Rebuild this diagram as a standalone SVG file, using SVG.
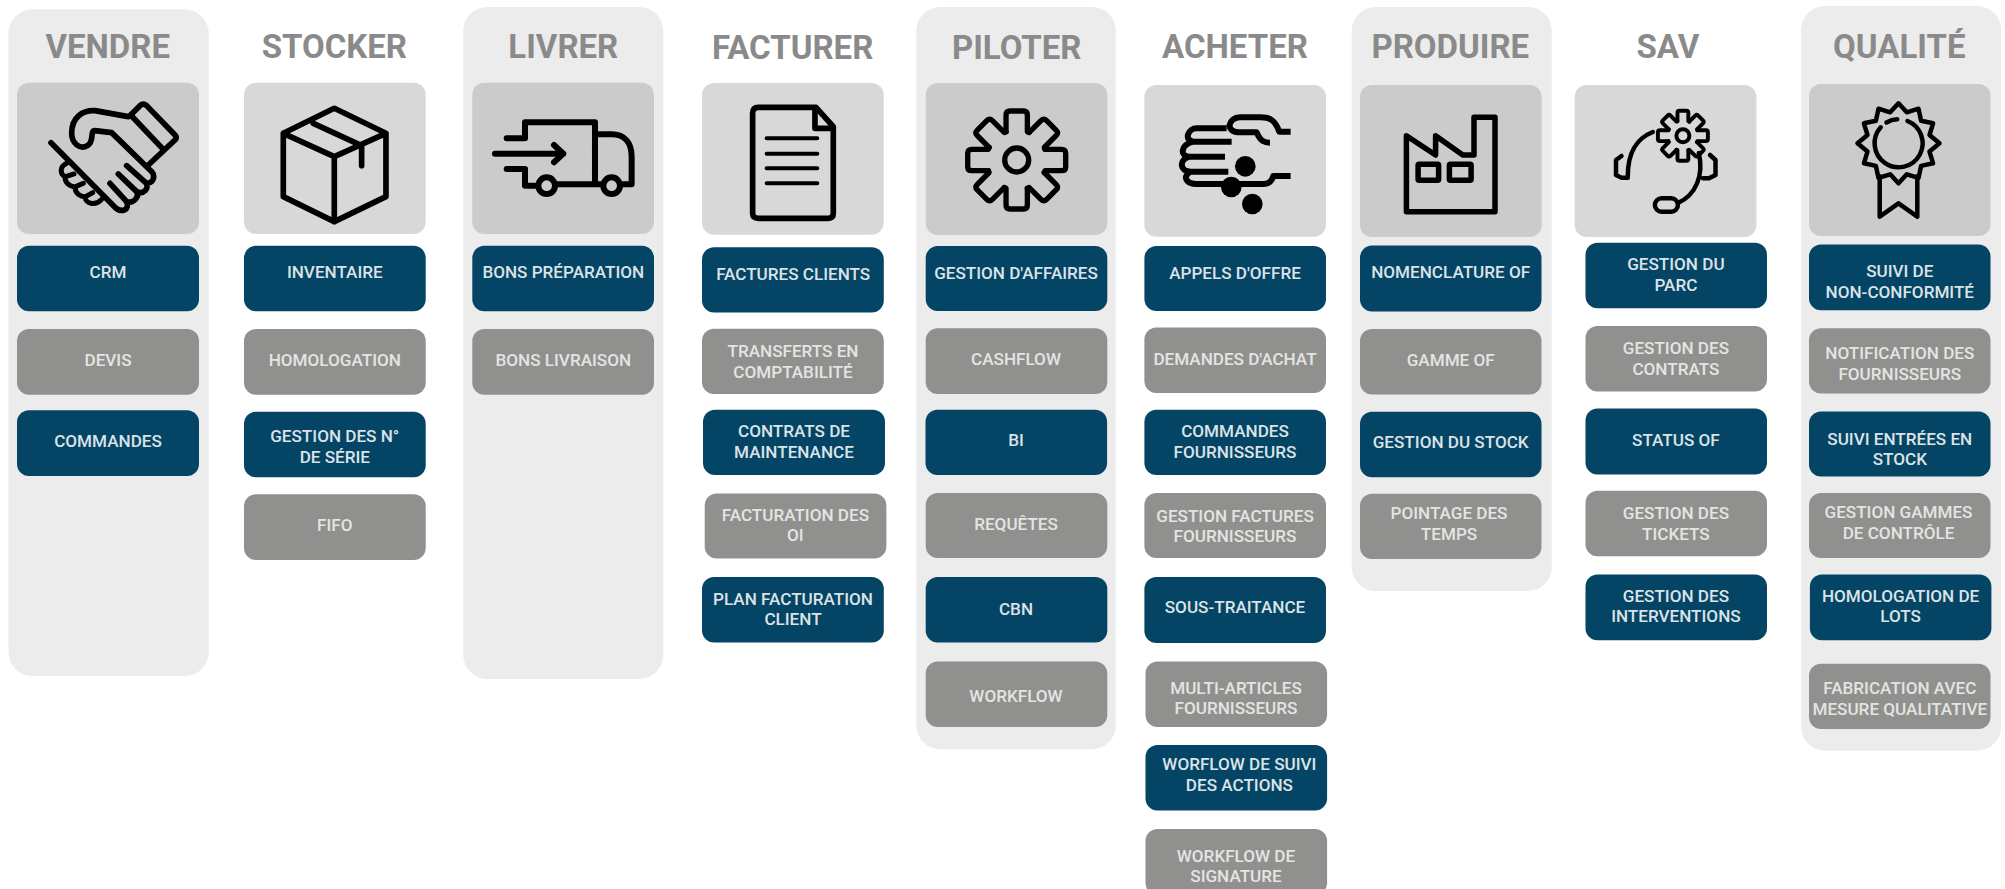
<svg xmlns="http://www.w3.org/2000/svg" width="2005" height="889" viewBox="0 0 2005 889">
<style>
text{font-family:Roboto,"Liberation Sans",sans-serif;text-anchor:middle}
.p{fill:#ececec}
.ia{fill:#cbcbcb}
.ib{fill:#d8d8d8}
.t{font-size:33px;font-weight:700;fill:#8a8a8a}
.n rect{fill:#044464}
.g rect{fill:#90918e}
.n text,.g text{font-size:17.1px;font-weight:500;fill:#dbe3e7}
.g text{fill:#e4e4e2}
.ic{fill:none;stroke:#000;stroke-linecap:round;stroke-linejoin:round}
</style>
<defs>
<path id="tooth" d="M-32,-85V-135Q-32,-147-20,-147H20Q32,-147 32,-135V-85L37.5,-82.7"/>
<g id="gear">
<use href="#tooth"/><use href="#tooth" transform="rotate(45)"/><use href="#tooth" transform="rotate(90)"/><use href="#tooth" transform="rotate(135)"/><use href="#tooth" transform="rotate(180)"/><use href="#tooth" transform="rotate(225)"/><use href="#tooth" transform="rotate(270)"/><use href="#tooth" transform="rotate(315)"/>
</g>
</defs>
<rect width="2005" height="889" fill="#fff"/>

<g id="col-vendre">
<rect class="p" x="8.5" y="9.3" width="200.2" height="666.7" rx="24"/>
<text class="t" x="107.7" y="58.2">VENDRE</text>
<rect class="ia" x="17" y="82.7" width="182" height="151.3" rx="12"/>
<g class="ic" stroke-width="17" transform="scale(.3333)" id="icon-handshake">
<path d="M153,428L345,622C365,640 390,630 380,605L330,550M380,605C400,612 420,590 410,575L355,522M410,575C430,585 450,565 437,548L380,497M437,548C460,555 470,525 450,510L335,398L285,392C268,392 285,425 262,437C240,450 215,430 215,400C215,350 250,330 285,332L385,350"/>
<path d="M392,345L420,317Q430,308 440,317L525,405Q532,412 525,420L445,495M392,345L485,443"/>
<path d="M200,490C180,500 178,520 195,530C195,550 210,560 225,560C225,580 240,590 255,590C255,610 285,620 305,598M222,522L197,530M250,550L227,560M278,578L257,590" stroke-width="15"/>
</g>
</g>
<g id="node-crm" class="n"><rect x="17" y="245.7" width="182" height="65.6" rx="12"/><text x="108" y="278">CRM</text></g>
<g id="node-devis" class="g"><rect x="17" y="329" width="182" height="65.7" rx="12"/><text x="108" y="366">DEVIS</text></g>
<g id="node-commandes" class="n"><rect x="17" y="410.3" width="182" height="65.7" rx="12"/><text x="108" y="447.3">COMMANDES</text></g>

<g id="col-stocker">
<text class="t" x="334.3" y="58">STOCKER</text>
<rect class="ib" x="244" y="82.7" width="181.7" height="151.3" rx="12"/>
<g class="ic" stroke-width="17" transform="scale(.3333)" id="icon-box">
<path d="M1003,325L1158,400V590L1003,665L850,590V400ZM850,400L1003,470L1158,400M1003,470V665M940,370L1085,437V497"/>
</g>
</g>
<g id="node-inventaire" class="n"><rect x="244" y="245.7" width="181.7" height="65.6" rx="12"/><text x="334.8" y="278">INVENTAIRE</text></g>
<g id="node-homologation" class="g"><rect x="244" y="329" width="181.7" height="65.7" rx="12"/><text x="334.8" y="366">HOMOLOGATION</text></g>
<g id="node-series" class="n"><rect x="244" y="411.7" width="181.7" height="65.6" rx="12"/><text x="334.8" y="442.3">GESTION DES N°</text><text x="334.8" y="463.3">DE SÉRIE</text></g>
<g id="node-fifo" class="g"><rect x="244" y="494.3" width="181.7" height="65.7" rx="12"/><text x="334.8" y="531.3">FIFO</text></g>

<g id="col-livrer">
<rect class="p" x="463.3" y="7" width="200" height="672" rx="24"/>
<text class="t" x="563.3" y="58">LIVRER</text>
<rect class="ia" x="472.3" y="82.7" width="181.7" height="151.3" rx="12"/>
<g class="ic" stroke-width="18" transform="translate(450 0) scale(.3333)" id="icon-truck">
<path d="M170,415H225V367H435V553H322M170,507H225V557H262M435,403H485C525,403 545,430 545,470V553H518M435,553H452"/>
<circle cx="290" cy="557" r="25"/><circle cx="485" cy="557" r="25"/>
<path d="M135,461H340M312,435L340,461L312,487"/>
</g>
</g>
<g id="node-preparation" class="n"><rect x="472.3" y="245.7" width="181.7" height="65.6" rx="12"/><text x="563.3" y="278">BONS PRÉPARATION</text></g>
<g id="node-livraison" class="g"><rect x="472.3" y="329" width="181.7" height="65.7" rx="12"/><text x="563.3" y="366">BONS LIVRAISON</text></g>

<g id="col-facturer">
<text class="t" x="792.7" y="58.6">FACTURER</text>
<rect class="ib" x="702" y="83" width="181.7" height="151.7" rx="12"/>
<g class="ic" stroke-width="17" transform="translate(450 0) scale(.3333)" id="icon-document">
<path d="M1098,322H925Q908,322 908,340V640Q908,655 925,655H1135Q1150,655 1150,640V380ZM1095,322V385H1150"/>
<path d="M950,415H1102M950,461H1102M950,505H1102M950,550H1102" stroke-width="12"/>
</g>
</g>
<g id="node-factures" class="n"><rect x="702" y="247.2" width="181.8" height="65.2" rx="12"/><text x="793.2" y="280.4">FACTURES CLIENTS</text></g>
<g id="node-transferts" class="g"><rect x="702" y="328.7" width="181.8" height="65.2" rx="12"/><text x="793" y="357.3">TRANSFERTS EN</text><text x="793" y="378.3">COMPTABILITÉ</text></g>
<g id="node-contrats" class="n"><rect x="703" y="409.8" width="182" height="65.2" rx="12"/><text x="794" y="437.2">CONTRATS DE</text><text x="794" y="458.2">MAINTENANCE</text></g>
<g id="node-facturation" class="g"><rect x="704.7" y="493.4" width="181.7" height="65.2" rx="12"/><text x="795.4" y="520.5">FACTURATION DES</text><text x="795.4" y="540.5">OI</text></g>
<g id="node-plan" class="n"><rect x="702" y="577" width="181.8" height="65.6" rx="12"/><text x="793" y="605">PLAN FACTURATION</text><text x="793" y="625.2">CLIENT</text></g>

<g id="col-piloter">
<rect class="p" x="916.3" y="7" width="199.5" height="742.3" rx="24"/>
<text class="t" x="1016.7" y="58.6">PILOTER</text>
<rect class="ia" x="925.7" y="83" width="181.6" height="152" rx="12"/>
<g class="ic" stroke-width="16" transform="translate(1016.7 160) scale(.3333)" id="icon-gear">
<use href="#gear"/><circle r="36"/>
</g>
</g>
<g id="node-affaires" class="n"><rect x="925.7" y="246" width="181.6" height="65" rx="12"/><text x="1016" y="278.7">GESTION D'AFFAIRES</text></g>
<g id="node-cashflow" class="g"><rect x="925.7" y="328.3" width="181.6" height="65.6" rx="12"/><text x="1016" y="365.3">CASHFLOW</text></g>
<g id="node-bi" class="n"><rect x="925.5" y="409.8" width="181.6" height="65.2" rx="12"/><text x="1016" y="446.4">BI</text></g>
<g id="node-requetes" class="g"><rect x="925.7" y="493" width="181.6" height="65" rx="12"/><text x="1016" y="530.4">REQUÊTES</text></g>
<g id="node-cbn" class="n"><rect x="925.7" y="577" width="181.6" height="65.6" rx="12"/><text x="1016" y="615.3">CBN</text></g>
<g id="node-workflow" class="g"><rect x="925.7" y="661.5" width="181.6" height="65.4" rx="12"/><text x="1016" y="702.3">WORKFLOW</text></g>

<g id="col-acheter">
<text class="t" x="1235" y="58">ACHETER</text>
<rect class="ib" x="1144.3" y="85" width="181.7" height="151.7" rx="12"/>
<g transform="translate(910 0) scale(.3333)" id="icon-hand">
<path class="ic" style="stroke-linecap:butt" stroke-width="18" d="M1142,395H1108C1095,360 1080,352 1050,352H990C955,352 945,395 985,397H1040C1052,425 1065,428 1080,428M950,385H860C835,385 820,420 850,425H965M850,425C810,435 810,470 838,470H945M838,470C805,480 810,515 842,515H955M842,515C815,530 830,552 860,552H1060C1075,552 1085,545 1090,528H1142"/>
<circle cx="1006" cy="499" r="31"/><circle cx="964" cy="561" r="31"/><circle cx="1027" cy="612" r="31"/>
</g>
</g>
<g id="node-appels" class="n"><rect x="1144.4" y="246" width="181.6" height="65" rx="12"/><text x="1235" y="278.7">APPELS D'OFFRE</text></g>
<g id="node-demandes" class="g"><rect x="1144.4" y="327.5" width="181.6" height="65.5" rx="12"/><text x="1235" y="364.5">DEMANDES D'ACHAT</text></g>
<g id="node-cmdfourn" class="n"><rect x="1144.4" y="409.8" width="181.6" height="65.2" rx="12"/><text x="1235" y="437.2">COMMANDES</text><text x="1235" y="458.2">FOURNISSEURS</text></g>
<g id="node-factfourn" class="g"><rect x="1144.4" y="493" width="181.6" height="65" rx="12"/><text x="1235" y="522.4">GESTION FACTURES</text><text x="1235" y="542.2">FOURNISSEURS</text></g>
<g id="node-soustraitance" class="n"><rect x="1144.4" y="577" width="181.6" height="66" rx="12"/><text x="1235" y="612.8">SOUS-TRAITANCE</text></g>
<g id="node-multi" class="g"><rect x="1145.5" y="661.5" width="181.6" height="65.5" rx="12"/><text x="1236" y="694">MULTI-ARTICLES</text><text x="1236" y="713.8">FOURNISSEURS</text></g>
<g id="node-worflow" class="n"><rect x="1145.5" y="745" width="181.6" height="65.6" rx="12"/><text x="1239.4" y="770.3">WORFLOW DE SUIVI</text><text x="1239.4" y="791.3">DES ACTIONS</text></g>
<g id="node-signature" class="g"><rect x="1145.5" y="829" width="181.6" height="66" rx="12"/><text x="1236" y="862">WORKFLOW DE</text><text x="1236" y="881.8">SIGNATURE</text></g>

<g id="col-produire">
<rect class="p" x="1351.7" y="7" width="200.1" height="584" rx="24"/>
<text class="t" x="1450.3" y="58">PRODUIRE</text>
<rect class="ia" x="1360" y="85" width="181.7" height="152" rx="12"/>
<g class="ic" stroke-width="5.5" id="icon-factory">
<path d="M1406.4,135.7L1435.6,155V135.7L1462.8,155H1474V117.3H1495V211.7H1406.4Z"/>
<rect x="1418.1" y="164.3" width="20.5" height="16" rx="1"/><rect x="1449.4" y="164.3" width="21.7" height="16" rx="1"/>
</g>
</g>
<g id="node-nomenclature" class="n"><rect x="1360" y="245.5" width="181.5" height="65.9" rx="12"/><text x="1450.7" y="278">NOMENCLATURE OF</text></g>
<g id="node-gamme" class="g"><rect x="1360" y="329" width="181.5" height="65.5" rx="12"/><text x="1450.7" y="366.2">GAMME OF</text></g>
<g id="node-stock" class="n"><rect x="1360" y="411.7" width="181.5" height="65.5" rx="12"/><text x="1450.7" y="448">GESTION DU STOCK</text></g>
<g id="node-pointage" class="g"><rect x="1360" y="493.8" width="181.5" height="65.2" rx="12"/><text x="1449" y="519.3">POINTAGE DES</text><text x="1449" y="540.3">TEMPS</text></g>

<g id="col-sav">
<text class="t" x="1667.9" y="58">SAV</text>
<rect class="ib" x="1574.7" y="85" width="181.7" height="152" rx="12"/>
<g class="ic" stroke-width="4.5" id="icon-headset">
<g transform="translate(1682.9 135.7) scale(.17)" stroke-width="23"><use href="#gear"/></g>
<circle cx="1682.9" cy="135.7" r="6.5" stroke-width="4"/>
<path d="M1652.8,132C1638,138 1627.8,150 1627.8,176M1621.5,156L1616,160V175L1621.5,177.7H1627.8M1698.8,153C1704,175 1696,195 1677.9,203M1710,155L1715.5,160V175L1709,178.3H1703"/>
<rect x="1654.9" y="198.3" width="23" height="13.4" rx="6.7"/>
</g>
</g>
<g id="node-parc" class="n"><rect x="1585.5" y="242.8" width="181.5" height="65.5" rx="12"/><text x="1675.9" y="270">GESTION DU</text><text x="1675.9" y="291">PARC</text></g>
<g id="node-contrats-sav" class="g"><rect x="1585.5" y="325.9" width="181.5" height="65.5" rx="12"/><text x="1675.9" y="354">GESTION DES</text><text x="1675.9" y="375">CONTRATS</text></g>
<g id="node-status" class="n"><rect x="1585.5" y="408.6" width="181.5" height="65.9" rx="12"/><text x="1675.9" y="446.2">STATUS OF</text></g>
<g id="node-tickets" class="g"><rect x="1585.5" y="490.7" width="181.5" height="65.5" rx="12"/><text x="1675.9" y="519.3">GESTION DES</text><text x="1675.9" y="540.3">TICKETS</text></g>
<g id="node-interventions" class="n"><rect x="1585.5" y="574.5" width="181.5" height="65.8" rx="12"/><text x="1675.9" y="602.4">GESTION DES</text><text x="1675.9" y="622.4">INTERVENTIONS</text></g>

<g id="col-qualite">
<rect class="p" x="1801.1" y="6" width="199.9" height="744.7" rx="24"/>
<text class="t" x="1899.3" y="58">QUALITÉ</text>
<rect class="ia" x="1809" y="84" width="181.5" height="152" rx="12"/>
<g class="ic" stroke-width="4.5" transform="translate(1898.5 143.3)" id="icon-rosette">
<polygon points="0,-40 8.3,-31 20,-34.6 22.6,-22.6 34.6,-20 31,-8.3 41,0 31,8.3 34.6,20 22.6,22.6 20,34.6 8.3,31 0,40 -8.3,31 -20,34.6 -22.6,22.6 -34.6,20 -31,8.3 -41,0 -31,-8.3 -34.6,-20 -22.6,-22.6 -20,-34.6 -8.3,-31"/>
<path d="M9,-22.3A24,24 0 1 1-17.8,-16M-12,-20.8A24,24 0 0 1-1.3,-24"/>
<path d="M-18.8,33V73.4L0,60L18.8,73.4V33"/>
</g>
</g>
<g id="node-suivi" class="n"><rect x="1809" y="244.5" width="181.5" height="65.8" rx="12"/><text x="1899.8" y="277.2">SUIVI DE</text><text x="1899.8" y="298">NON-CONFORMITÉ</text></g>
<g id="node-notification" class="g"><rect x="1809" y="328.3" width="181.5" height="65.1" rx="12"/><text x="1899.8" y="359.3">NOTIFICATION DES</text><text x="1899.8" y="380.3">FOURNISSEURS</text></g>
<g id="node-entrees" class="n"><rect x="1809" y="411.4" width="181.5" height="65.1" rx="12"/><text x="1899.8" y="444.5">SUIVI ENTRÉES EN</text><text x="1899.8" y="464.5">STOCK</text></g>
<g id="node-gammes" class="g"><rect x="1809" y="493" width="181.5" height="65" rx="12"/><text x="1898.5" y="518.3">GESTION GAMMES</text><text x="1898.5" y="539.3">DE CONTRÔLE</text></g>
<g id="node-lots" class="n"><rect x="1809.9" y="574.5" width="181.5" height="65.8" rx="12"/><text x="1900.6" y="602.4">HOMOLOGATION DE</text><text x="1900.6" y="622.4">LOTS</text></g>
<g id="node-fabrication" class="g"><rect x="1809" y="663.8" width="181.5" height="65.2" rx="12"/><text x="1899.8" y="693.8">FABRICATION AVEC</text><text x="1899.8" y="714.8">MESURE QUALITATIVE</text></g>
</svg>
